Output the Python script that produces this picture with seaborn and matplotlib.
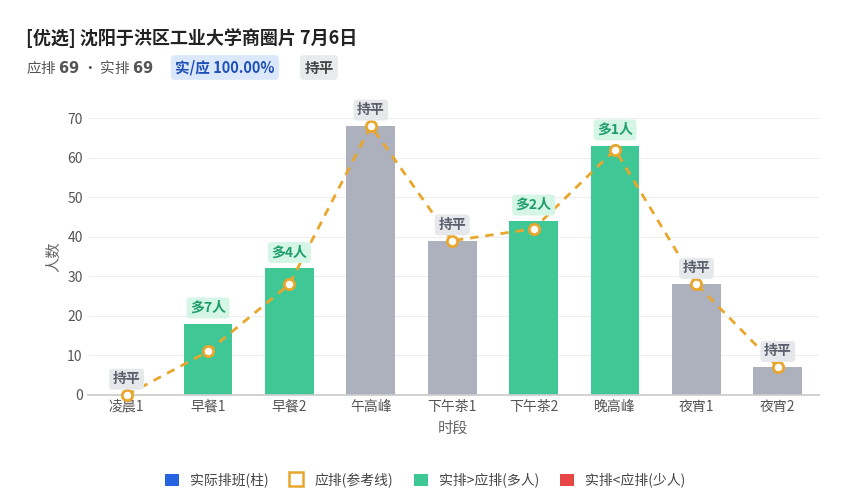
import matplotlib.pyplot as plt
import seaborn as sns
import pandas as pd
from matplotlib.patches import Patch
from matplotlib.lines import Line2D

slots = ['凌晨1', '早餐1', '早餐2', '午高峰', '下午茶1', '下午茶2', '晚高峰', '夜宵1', '夜宵2']
actual = [0, 18, 32, 68, 39, 44, 63, 28, 7]
planned = [0, 11, 28, 68, 39, 42, 62, 28, 7]
tags = ['持平', '多7人', '多4人', '持平', '持平', '多2人', '多1人', '持平', '持平']

sns.set_theme(style='white')
plt.rcParams['font.family'] = ['Noto Sans CJK SC', 'DejaVu Sans']

GREEN = '#3fc895'
GRAY = '#adb1bd'
ORANGE = '#e8a62c'

df = pd.DataFrame({'slot': slots, 'actual': actual, 'planned': planned})
colors = [GREEN if a > p else GRAY for a, p in zip(actual, planned)]

fig = plt.figure(figsize=(8.5, 5), dpi=100)
ax = fig.add_axes([0.103, 0.21, 0.86, 0.554])
sns.barplot(data=df, x='slot', y='actual', hue='slot', palette=colors, legend=False,
            width=0.6, ax=ax, edgecolor='none', saturation=1)
ax.plot(range(len(slots)), planned, color=ORANGE, ls='--', lw=2, dashes=(3, 2.5), zorder=3, clip_on=False)
ax.scatter(range(len(slots)), planned, s=55, facecolor='white', edgecolor=ORANGE, lw=2, zorder=4, clip_on=False)

for i, (a, p, t) in enumerate(zip(actual, planned, tags)):
    top = max(a, p)
    green = t != '持平'
    ax.text(i, top + 4.0, t, ha='center', va='center', fontsize=10, fontweight='bold',
            color='#1e9e6a' if green else '#5a5f6b', zorder=5,
            bbox=dict(boxstyle='round,pad=0.25', fc='#d5f5e6' if green else '#e6e8ec', ec='none'))

ax.set_ylim(0, 70)
ax.set_yticks(range(0, 71, 10))
ax.set_xlim(-0.48, 8.5)
ax.grid(axis='y', color='#eeeeee', lw=0.8)
ax.set_axisbelow(True)
for s in ['top', 'right', 'left']:
    ax.spines[s].set_visible(False)
ax.spines['bottom'].set_color('#cccccc')
ax.tick_params(axis='both', length=0, colors='#555555', labelsize=10)
ax.set_xlabel('时段', color='#666666', fontsize=11)
ax.set_ylabel('人数', color='#666666', fontsize=11)

fig.text(0.03, 0.912, '[优选] 沈阳于洪区工业大学商圈片 7月6日', fontsize=13, fontweight='bold', color='#222222')
fig.text(0.03, 0.855, r'应排 $\mathbf{69}$ · 实排 $\mathbf{69}$', fontsize=10.5, color='#555555')
fig.text(0.206, 0.855, '实/应 100.00%', fontsize=10.5, color='#1d4fb8', fontweight='bold',
         bbox=dict(boxstyle='round,pad=0.3', fc='#dbe8fb', ec='none'))
fig.text(0.358, 0.855, '持平', fontsize=10.5, color='#444444', fontweight='bold',
         bbox=dict(boxstyle='round,pad=0.3', fc='#e8eaee', ec='none'))

handles = [Patch(fc='#2464e0', ec='none'),
           Line2D([], [], marker='s', ls='none', mfc='white', mec=ORANGE, mew=1.8, ms=10),
           Patch(fc=GREEN, ec='none'),
           Patch(fc='#e84545', ec='none')]
labels = ['实际排班(柱)', '应排(参考线)', '实排>应排(多人)', '实排<应排(少人)']
fig.legend(handles, labels, loc='lower center', bbox_to_anchor=(0.5, 0.0), ncol=4, frameon=False,
           fontsize=10, handlelength=1, handleheight=1, columnspacing=1.5, labelcolor='#444444')

fig.savefig('out.png', dpi=100)
